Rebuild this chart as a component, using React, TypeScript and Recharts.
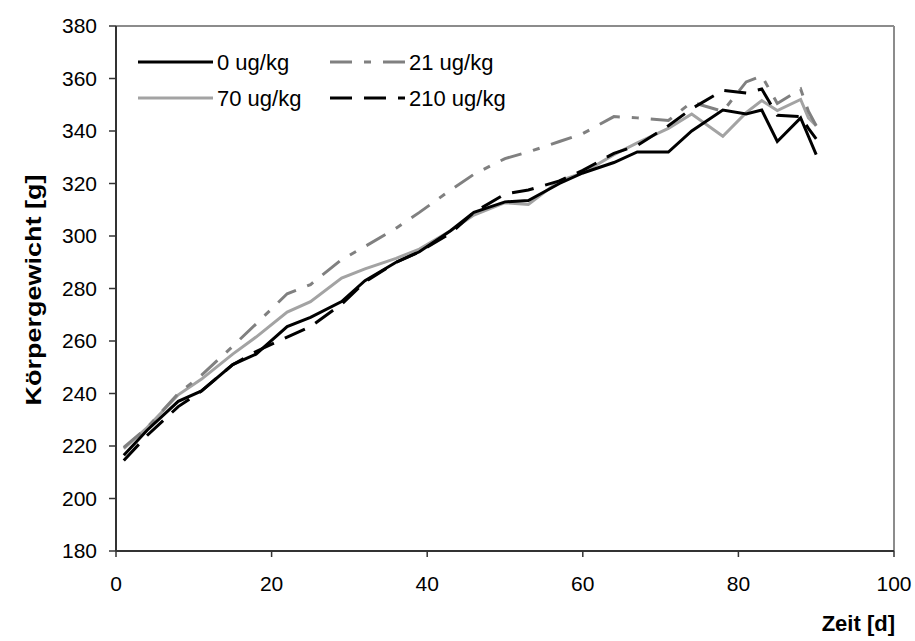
import React from "react";
import { LineChart, Line, XAxis, YAxis, ReferenceLine, Label } from "recharts";

const days = [1, 4, 8, 11, 15, 18, 22, 25, 29, 32, 36, 39, 43, 46, 50, 53, 57, 60, 64, 67, 71, 74, 78, 81, 83, 85, 88, 89, 90];
const dose0 = [216.5, 226, 237, 241, 251, 255, 265.5, 269, 275, 283, 290, 294, 302, 309, 313, 313.5, 320, 324, 328, 332, 332, 340, 348, 346.5, 348, 336, 345, 338, 331];
const dose21 = [219.5, 227, 240, 247, 258, 266.5, 278, 281.5, 291, 296, 303, 309, 317.5, 323.5, 329.5, 332, 336, 339, 345.5, 345, 344, 351, 347.5, 358.7, 361, 350.5, 356, 347.5, 342];
const dose70 = [219, 227, 239.5, 245.5, 255, 261.5, 271, 275, 284, 287.5, 291.5, 295, 302, 308, 312.7, 312, 321, 324, 331, 335.5, 341, 346.5, 338, 347, 351.6, 347.8, 352, 345, 342];
const dose210 = [214.5, 224, 235, 241, 251, 256, 261.5, 265.5, 274, 282.5, 290, 294, 301, 309, 316, 317.5, 321, 325, 331.5, 334.5, 342, 348.5, 355.5, 354.5, 356, 346, 345.5, 341, 337];
const xTicks = [0, 20, 40, 60, 80, 100];
const yTicks = [180, 200, 220, 240, 260, 280, 300, 320, 340, 360, 380];

const rows = days.map((d, i) => ({ day: d, d0: dose0[i], d21: dose21[i], d70: dose70[i], d210: dose210[i] }));

const FONT = "'Liberation Sans', Arial, sans-serif";
const SX = 0.81;

const series = [
  { key: "d0", name: "0 ug/kg", color: "#000000", dash: undefined as string | undefined },
  { key: "d21", name: "21 ug/kg", color: "#808080", dash: "22 12 7 12" },
  { key: "d70", name: "70 ug/kg", color: "#a3a3a3", dash: undefined },
  { key: "d210", name: "210 ug/kg", color: "#000000", dash: "22 12" },
];

function LegendBox() {
  return (
    <svg width={520} height={80} style={{ position: "absolute", left: 130, top: 40 }}>
      {series.map((s, i) => {
        const col = i % 2;
        const row = Math.floor(i / 2);
        const x0 = col === 0 ? 8 : 200;
        const y0 = 22 + row * 36;
        return (
          <g key={s.key}>
            <line x1={x0} x2={x0 + 75} y1={y0} y2={y0} stroke={s.color} strokeWidth={3} strokeDasharray={s.dash} />
            <text x={x0 + 79} y={y0} dy="0.36em" fontSize={22} fontFamily={FONT} fill="#000">
              {s.name}
            </text>
          </g>
        );
      })}
    </svg>
  );
}

const tickStyle = { fontSize: 21, fontFamily: FONT, fill: "#000" };

export default function App() {
  return (
    <div style={{ position: "absolute", left: 0, top: 0, width: 915, height: 641, background: "#fff" }}>
      <LineChart width={915} height={641} data={rows} margin={{ top: 26, right: 21, bottom: 0, left: 56 }}>
        <XAxis
          dataKey="day"
          type="number"
          domain={[0, 100]}
          ticks={xTicks}
          tick={tickStyle}
          tickLine={{ stroke: "#333", strokeWidth: 1.5 }}
          tickSize={6}
          tickMargin={19}
          stroke="#333"
          strokeWidth={2}
          height={90}
          allowDataOverflow
        >
          <Label
            content={() => (
              <text x={895} y={631} textAnchor="end" fontSize={22} fontWeight="bold" fontFamily={FONT} fill="#000">
                Zeit [d]
              </text>
            )}
          />
        </XAxis>
        <YAxis
          type="number"
          domain={[180, 380]}
          ticks={yTicks}
          tick={tickStyle}
          tickLine={{ stroke: "#333", strokeWidth: 1.5 }}
          tickSize={7}
          tickMargin={12}
          stroke="#333"
          strokeWidth={2}
          width={60}
          allowDataOverflow
        >
          <Label
            content={() => (
              <text
                transform={`translate(41,290) scale(${SX},1) rotate(-90)`}
                x={0}
                y={0}
                textAnchor="middle"
                fontSize={27}
                fontWeight="bold"
                fontFamily={FONT}
                fill="#000"
              >
                Körpergewicht [g]
              </text>
            )}
          />
        </YAxis>
        <ReferenceLine y={380} stroke="#8c8c8c" strokeWidth={2} />
        <ReferenceLine x={100} stroke="#8c8c8c" strokeWidth={2} />
        {[series[2], series[1], series[0], series[3]].map((s) => (
          <Line
            key={s.key}
            type="linear"
            dataKey={s.key}
            name={s.name}
            stroke={s.color}
            strokeWidth={3}
            strokeDasharray={s.dash}
            dot={false}
            activeDot={false}
            isAnimationActive={false}
          />
        ))}
      </LineChart>
      <LegendBox />
    </div>
  );
}
